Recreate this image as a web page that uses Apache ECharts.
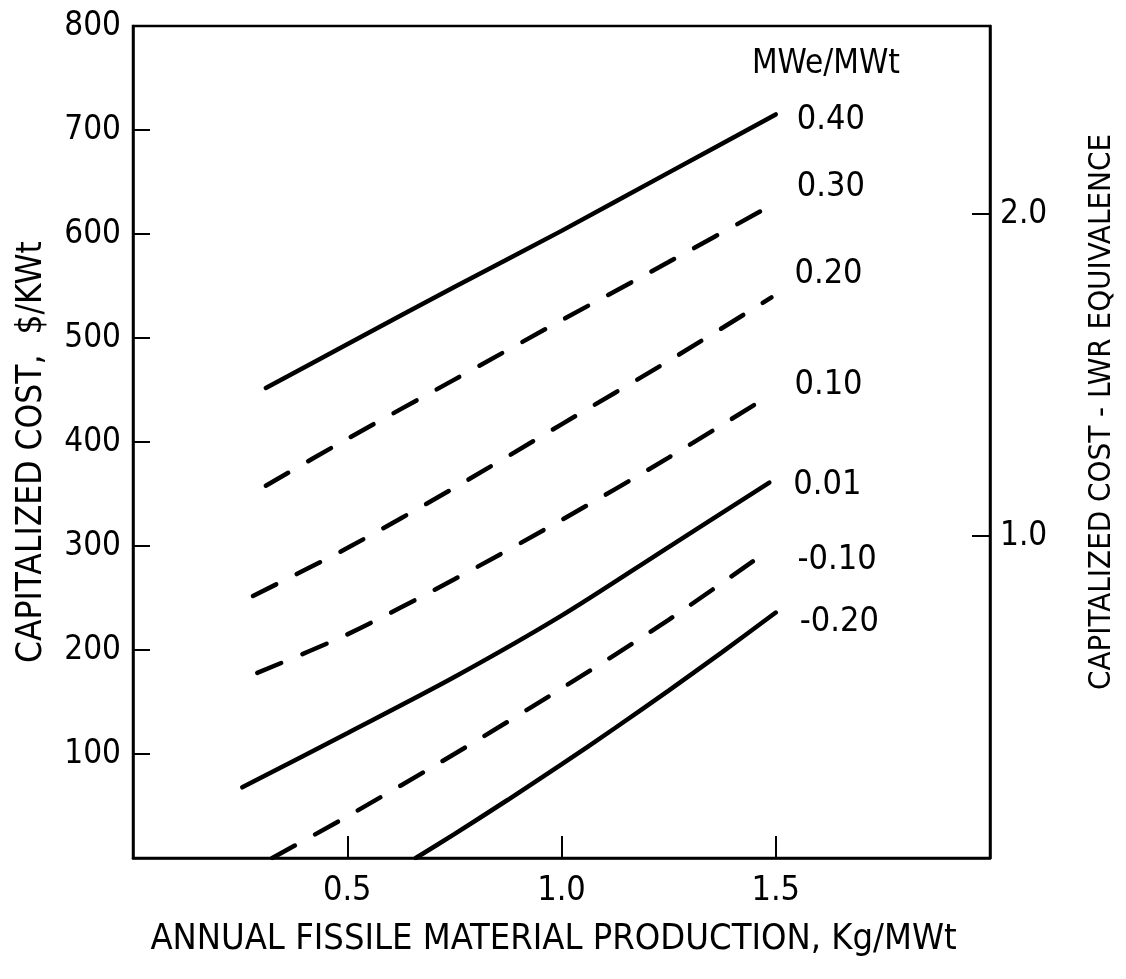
<!DOCTYPE html>
<html>
<head>
<meta charset="utf-8">
<title>Capitalized cost vs fissile production</title>
<script src="https://cdn.jsdelivr.net/npm/echarts@6/dist/echarts.min.js"></script>
<style>
  html, body { margin: 0; padding: 0; background: #fff; }
  #chart { width: 1126px; height: 979px; }
</style>
</head>
<body>
<div id="chart"></div>
<script>
// ratio labels MWe/MWt, one per curve
var ratios = ['0.40', '0.30', '0.20', '0.10', '0.01', '-0.10', '-0.20'];
var dashed = [false, true, true, true, false, true, false];

// [annual fissile production Kg/MWt, capitalized cost $/KWt]
var curve040 = [[0.31, 452], [0.5, 494], [0.75, 549], [1.0, 603], [1.25, 659], [1.5, 715]];
var curve030 = [[0.31, 358], [0.5, 403], [0.75, 460], [1.0, 517], [1.25, 573], [1.5, 630]];
var curve020 = [[0.28, 252], [0.5, 298], [0.75, 356], [1.0, 417], [1.25, 478], [1.49, 539]];
var curve010 = [[0.29, 178], [0.5, 215], [0.75, 268], [1.0, 325], [1.25, 385], [1.49, 446]];
var curve001 = [[0.255, 68], [0.5, 120], [0.75, 174], [1.0, 233], [1.25, 299], [1.485, 361]];
var curveM010 = [[0.325, 0], [0.5, 40], [0.75, 100], [1.0, 163], [1.25, 229], [1.49, 298]];
var curveM020 = [[0.66, 0], [0.75, 23], [0.875, 56], [1.0, 90], [1.125, 125], [1.25, 161], [1.375, 198], [1.5, 236]];
var curves = [curve040, curve030, curve020, curve010, curve001, curveM010, curveM020];

// tick values
var xTicks = [0.5, 1.0, 1.5];
var yTicks = [100, 200, 300, 400, 500, 600, 700, 800];
var lwrTicks = [1.0, 2.0];

var FONT = "'Liberation Sans Narrow', 'DejaVu Sans Condensed', 'Liberation Sans', sans-serif";

// where each ratio label sits relative to the end of its curve
var labelOffsets = [[13, 6], [13, -16], [15, -23], [15, -9], [16, 3], [18, 12], [16, 10]];

var myChart = echarts.init(document.getElementById('chart'));

var series = curves.map(function (c, i) {
    return {
        name: ratios[i],
        type: 'line',
        data: c,
        showSymbol: false,
        smooth: 0.3,
        lineStyle: {
            color: '#000',
            width: 4.5,
            type: dashed[i] ? [26, 23] : 'solid',
            cap: 'round'
        },
        endLabel: {
            show: true,
            formatter: '{a}',
            offset: labelOffsets[i],
            color: '#000',
            fontSize: 34,
            fontFamily: FONT
        }
    };
});

var option = {
    animation: false,
    backgroundColor: '#fff',
    title: {
        text: 'MWe/MWt',
        left: 752,
        top: 48,
        padding: 0,
        textStyle: {color: '#000', fontSize: 33, fontWeight: 'normal', fontFamily: FONT}
    },
    grid: {
        left: 133,
        right: 136,
        top: 26,
        bottom: 121,
        show: true,
        borderColor: '#000',
        borderWidth: 2.5
    },
    xAxis: {
        type: 'value',
        min: 0,
        max: 2,
        name: 'ANNUAL FISSILE MATERIAL PRODUCTION, Kg/MWt',
        nameLocation: 'middle',
        nameGap: 64,
        nameTextStyle: {color: '#000', fontSize: 36, fontFamily: FONT, padding: [0, 16, 0, 0]},
        axisLine: {lineStyle: {color: '#000', width: 2.5}},
        axisTick: {inside: true, length: 22, customValues: xTicks, lineStyle: {color: '#000', width: 2}},
        axisLabel: {
            customValues: xTicks,
            margin: 16,
            color: '#000',
            fontSize: 34,
            fontFamily: FONT,
            formatter: function (v) { return v.toFixed(1); }
        },
        splitLine: {show: false}
    },
    yAxis: [
        {
            type: 'value',
            min: 0,
            max: 800,
            name: 'CAPITALIZED COST,  $/KWt',
            nameLocation: 'middle',
            nameRotate: 90,
            nameGap: 84,
            nameTextStyle: {color: '#000', fontSize: 35, fontFamily: FONT, padding: [0, 20, 0, 0]},
            axisLine: {show: true, lineStyle: {color: '#000', width: 2.5}},
            axisTick: {inside: true, length: 17, customValues: yTicks, lineStyle: {color: '#000', width: 2}},
            axisLabel: {customValues: yTicks, margin: 12, color: '#000', fontSize: 33, fontFamily: FONT},
            splitLine: {show: false}
        },
        {
            type: 'value',
            position: 'right',
            min: 0,
            max: 2.584,
            name: 'CAPITALIZED COST - LWR EQUIVALENCE',
            nameLocation: 'middle',
            nameRotate: 90,
            nameGap: 96,
            nameTextStyle: {color: '#000', fontSize: 31, fontFamily: FONT, padding: [0, 0, 0, 60]},
            axisLine: {show: true, lineStyle: {color: '#000', width: 2.5}},
            axisTick: {inside: true, length: 18, customValues: lwrTicks, lineStyle: {color: '#000', width: 2}},
            axisLabel: {
                customValues: lwrTicks,
                margin: 10,
                color: '#000',
                fontSize: 33,
                fontFamily: FONT,
                formatter: function (v) { return v.toFixed(1); }
            },
            splitLine: {show: false}
        }
    ],
    series: series
};
myChart.setOption(option);
</script>
</body>
</html>
